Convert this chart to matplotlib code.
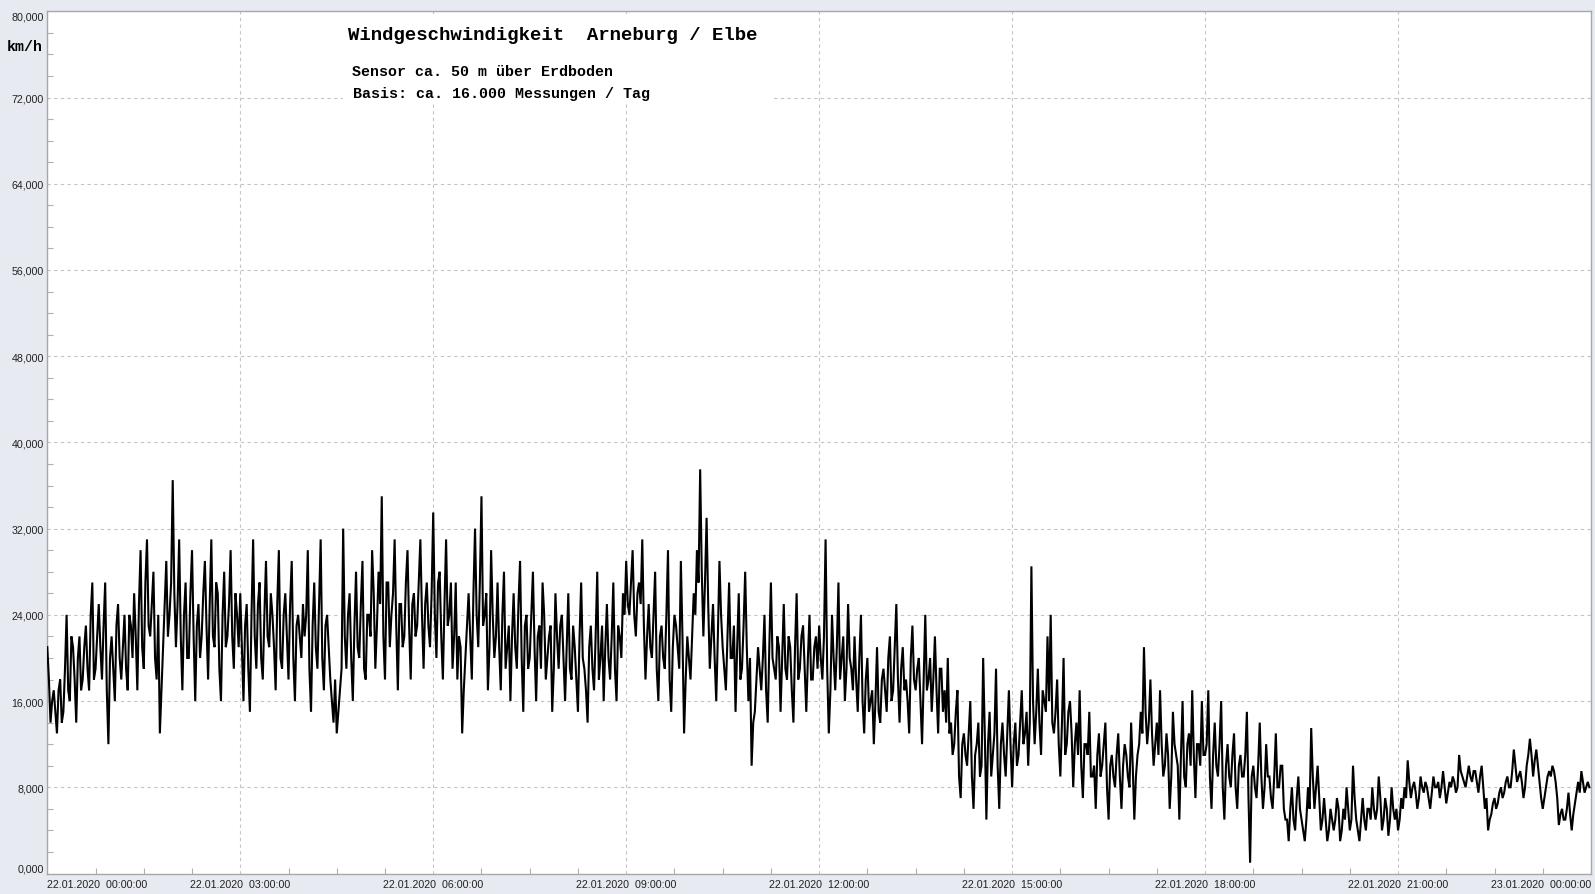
import matplotlib
matplotlib.use("Agg")
import matplotlib.pyplot as plt
import numpy as np
from matplotlib.patches import Rectangle
from matplotlib.ticker import MultipleLocator

# wind speed in km/h: one value every 3 minutes (20 per hour)
speed = [
    21, 14, 17, 13, 18, 15, 24, 16, 21, 14, 22, 18, 23, 17, 27, 19, 25, 18, 27, 12,
    22, 16, 25, 18, 24, 17, 23, 26, 17, 30, 19, 31, 22, 28, 18, 13, 21, 29, 24, 36.5,
    21, 31, 17, 27, 20, 30, 16, 25, 22, 29, 18, 31, 21, 26, 16, 28, 22, 30, 19, 24,
    26, 16, 25, 15, 31, 19, 27, 18, 29, 21, 24, 17, 30, 19, 26, 18, 29, 16, 24, 20,
    22, 30, 15, 27, 19, 31, 17, 24, 18, 14, 13, 17, 32, 19, 26, 16, 28, 20, 29, 18,
    24, 30, 19, 28, 35, 18, 27, 24, 31, 17, 25, 22, 30, 18, 26, 23, 31, 19, 27, 21,
    33.5, 20, 28, 18, 31, 24, 19, 27, 22, 13, 20, 26, 18, 32, 21, 35, 24, 17, 30, 20,
    27, 17, 28, 21, 16, 26, 19, 29, 15, 24, 20, 28, 16, 23, 27, 18, 22, 15, 26, 19,
    24, 16, 26, 18, 21, 15, 27, 19, 14, 23, 17, 28, 20, 16, 25, 18, 27, 16, 22, 26,
    29, 24, 30, 22, 27, 31, 18, 25, 20, 28, 16, 23, 19, 30, 15, 24, 21, 29, 13, 22,
    18, 26, 30, 37.5, 22, 33, 19, 25, 16, 29, 21, 17, 27, 20, 15, 26, 19, 28, 16, 10,
    15, 21, 17, 24, 14, 27, 19, 22, 15, 25, 18, 21, 14, 26, 19, 23, 15, 24, 18, 22,
    23, 18, 31, 13, 24, 17, 27, 20, 16, 25, 19, 22, 15, 24, 13, 20, 16, 12, 21, 14,
    19, 15, 22, 17, 25, 14, 21, 18, 13, 23, 17, 20, 12, 24, 18, 15, 22, 13, 19, 17,
    20, 14, 12, 17, 7, 13, 10, 16, 6, 12, 9, 20, 5, 15, 11, 19, 6, 14, 9, 17,
    8, 14, 11, 17, 13, 10, 28.5, 12, 19, 11, 16, 22, 24, 13, 18, 9, 20, 12, 16, 8,
    14, 17, 7, 12, 15, 9, 6, 13, 10, 14, 5, 11, 8, 13, 6, 12, 9, 14, 5, 11,
    15, 21, 12, 18, 10, 14, 17, 9, 13, 6, 15, 11, 5, 16, 8, 13, 17, 7, 12, 16,
    11, 17, 6, 14, 9, 16, 5, 12, 8, 13, 6, 11, 9, 15, 1, 10, 7, 14, 6, 12,
    9, 6, 13, 8, 10, 5, 3, 8, 4, 9, 5, 3, 8, 13.5, 6, 10, 4, 7, 3, 6,
    4, 7, 3, 6, 8, 4, 10, 5, 3, 7, 4, 6, 8, 5, 9, 4, 7, 3.5, 8, 5,
    4, 7, 8, 10.5, 7, 8.5, 6, 9, 7.5, 8, 6, 9, 8, 7, 9.5, 6.5, 8.5, 9, 7.5, 11,
    9, 8, 10, 8.5, 9.5, 7.5, 10, 6, 4, 5.5, 7, 6.5, 8, 7.5, 9, 8, 11.5, 8.5, 9.5, 7,
    10, 12.5, 9, 11.5, 8.5, 6, 8, 9.5, 10, 8.5, 4.5, 6, 5, 7.5, 4, 6.5, 8.5, 9.5, 7.5, 8.5,
]
# readings in between, 1.5 minutes later than each value above
speed_mid = [
    18, 16, 15, 17, 14, 19, 17, 22, 18, 20, 17, 21, 19, 24, 18, 22, 21, 23, 17, 20,
    19, 23, 20, 21, 19, 24, 20, 22, 25, 21, 27, 23, 25, 20, 24, 17, 25, 22, 27, 26,
    25, 22, 24, 20, 26, 22, 23, 20, 26, 23, 25, 22, 27, 19, 24, 21, 25, 22, 26, 21,
    21, 23, 19, 24, 22, 25, 20, 24, 22, 26, 21, 25, 20, 24, 22, 25, 20, 23, 22, 25,
    24, 19, 23, 21, 25, 20, 23, 21, 16, 18, 15, 19, 22, 24, 20, 23, 21, 25, 19, 24,
    22, 26, 23, 25, 22, 27, 21, 26, 23, 25, 21, 27, 23, 25, 22, 27, 24, 25, 23, 26,
    24, 27, 22, 25, 23, 27, 22, 18, 21, 17, 23, 22, 26, 24, 27, 23, 26, 21, 24, 22,
    21, 24, 19, 23, 22, 21, 25, 20, 23, 19, 24, 21, 22, 19, 24, 20, 23, 19, 22, 23,
    20, 21, 19, 23, 18, 22, 20, 17, 21, 19, 22, 18, 23, 21, 20, 22, 19, 23, 20, 24,
    25, 27, 24, 26, 25, 23, 22, 21, 24, 19, 22, 20, 24, 18, 21, 23, 19, 22, 18, 20,
    22, 24, 27, 28, 27, 25, 22, 20, 22, 24, 19, 22, 20, 23, 21, 18, 23, 21, 20, 14,
    18, 19, 20, 17, 21, 20, 18, 21, 20, 19, 22, 17, 21, 18, 22, 19, 20, 18, 21, 19,
    20, 22, 19, 17, 20, 21, 18, 22, 19, 20, 17, 18, 20, 16, 18, 15, 17, 16, 15, 18,
    17, 20, 16, 21, 18, 19, 17, 16, 20, 18, 19, 16, 18, 17, 20, 18, 17, 19, 15, 14,
    13, 11, 15, 9, 12, 11, 13, 9, 11, 14, 10, 13, 12, 9, 13, 10, 12, 11, 13, 12,
    12, 10, 14, 12, 15, 14, 16, 15, 14, 17, 15, 16, 14, 15, 12, 14, 11, 15, 13, 12,
    11, 10, 12, 11, 9, 10, 11, 9, 12, 8, 10, 9, 11, 9, 10, 11, 8, 10, 9, 12,
    13, 15, 14, 13, 12, 11, 12, 10, 11, 9, 12, 10, 11, 9, 12, 10, 11, 12, 10, 11,
    12, 9, 11, 10, 12, 8, 10, 9, 11, 8, 10, 9, 11, 7, 9, 8, 10, 9, 8, 9,
    7, 9, 8, 10, 6, 5, 6, 5, 7, 6, 4, 5, 6, 9, 8, 7, 5, 5, 4, 5,
    5, 6, 4, 5, 6, 5, 7, 4, 5, 5, 6, 5, 6, 6, 7, 5, 6, 5, 6, 6,
    5, 6, 7, 8.5, 8, 7.5, 7, 8, 8.5, 7, 7.5, 8, 8.5, 8, 8, 7.5, 8, 8.5, 8, 9.5,
    8.5, 9, 9, 9.5, 8.5, 9, 8, 7, 5, 6.5, 6, 7.5, 7, 8.5, 8, 9.5, 10, 9, 8.5, 8,
    11, 11, 10.5, 10, 7, 7, 9, 9, 9.5, 7, 5.5, 5, 6, 5.5, 5.5, 7.5, 7.5, 8.5, 8, 8,
]
step_h = 0.05

x_ticks = [0, 3, 6, 9, 12, 15, 18, 21, 24]
x_labels = ["22.01.2020  00:00:00", "22.01.2020  03:00:00", "22.01.2020  06:00:00",
            "22.01.2020  09:00:00", "22.01.2020  12:00:00", "22.01.2020  15:00:00",
            "22.01.2020  18:00:00", "22.01.2020  21:00:00", "23.01.2020  00:00:00"]
y_ticks = [0, 8, 16, 24, 32, 40, 48, 56, 64, 72, 80]

title = "Windgeschwindigkeit  Arneburg / Elbe"
sub1 = "Sensor ca. 50 m über Erdboden"
sub2 = "Basis: ca. 16.000 Messungen / Tag"

W, H = 1595, 895
bg = "#e7eaf0"
fig = plt.figure(figsize=(W / 100, H / 100), dpi=100, facecolor=bg)
ax = fig.add_axes([47.3 / W, (H - 874.5) / H, (1591 - 47.3) / W, (874.5 - 12.3) / H])
ax.set_facecolor("white")
ax.set_axisbelow(True)

# interleave the two sets of readings in time order
vals = np.empty(2 * len(speed))
vals[0::2] = speed
vals[1::2] = speed_mid
t = np.arange(len(vals)) * step_h / 2
ax.plot(t, vals, color="black", lw=1.5, zorder=3, solid_joinstyle="miter")

ax.set_xlim(0, 24)
ax.set_ylim(0, 80)

ax.set_xticks(x_ticks)
ax.set_xticklabels(x_labels)
ax.set_yticks(y_ticks)
ax.set_yticklabels([f"{v:.3f}".replace(".", ",") for v in y_ticks])
ax.xaxis.set_minor_locator(MultipleLocator(0.75))
ax.yaxis.set_minor_locator(MultipleLocator(2))

ax.tick_params(which="major", length=0, labelsize=7.7, labelcolor="#222222")
ax.tick_params(axis="x", which="major", pad=4)
ax.tick_params(axis="y", which="major", pad=2.5)
ax.tick_params(which="minor", direction="in", length=4, color="#b0b0b0", width=0.8)
for lab in ax.get_xticklabels() + ax.get_yticklabels():
    lab.set_family("Liberation Sans")
xl = ax.get_xticklabels()
xl[0].set_horizontalalignment("left")
xl[-1].set_horizontalalignment("right")
yl = ax.get_yticklabels()
yl[0].set_verticalalignment("bottom")
yl[-1].set_verticalalignment("top")

ax.grid(True, which="major", color="#c4c4c4", linestyle=(0, (3, 3)), lw=0.8)
for s in ax.spines.values():
    s.set_color("#a8a8a8")
    s.set_linewidth(1)

# white box behind the header text hides the grid
ax.add_patch(Rectangle((343 / W, (H - 103) / H), (773 - 343) / W, (103 - 15) / H,
                       transform=fig.transFigure, facecolor="white", edgecolor="none",
                       zorder=1))

mono = "Liberation Mono"
fig.text(348 / W, 1 - 35 / H, title, family=mono, weight="bold", fontsize=13.7,
         va="center", ha="left")
fig.text(351.5 / W, 1 - 71.5 / H, sub1, family=mono, weight="bold", fontsize=10.8,
         va="center", ha="left")
fig.text(353 / W, 1 - 94 / H, sub2, family=mono, weight="bold", fontsize=10.8,
         va="center", ha="left")
fig.text(7 / W, 1 - 47 / H, "km/h", family=mono, weight="bold", fontsize=10.8,
         va="center", ha="left")

fig.savefig("out.png", dpi=100, facecolor=bg)
